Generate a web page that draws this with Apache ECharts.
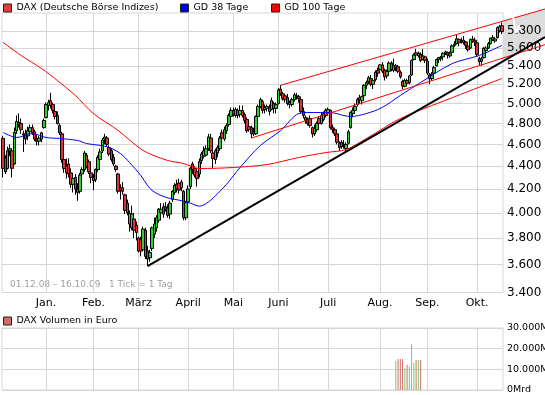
<!DOCTYPE html>
<html><head><meta charset="utf-8">
<script src="https://cdn.jsdelivr.net/npm/echarts@6/dist/echarts.min.js"></script>
<style>html,body{margin:0;padding:0;background:#fff}#c{width:545px;height:395px}</style>
</head><body><div id="c"></div>
<script>
// ---------- data ----------
const monthStarts = [19,40,60,82,102,122,144,167,188,210];
const monthLabels = ['Jan.','Feb.','März','April','Mai','Juni','Juli','Aug.','Sep.','Okt.'];
const priceTicks = [3400,3600,3800,4000,4200,4400,4600,4800,5000,5200,5400,5600,5800];
const volTicks = [0,10000,20000,30000];
// [open, high, low, close] per trading day
const dec08 = [[4656,4680,4300,4380],[4470,4500,4330,4350],[4380,4580,4370,4540],[4540,4600,4490,4560],[4540,4560,4300,4380],[4420,4760,4410,4715],[4730,4880,4700,4820],[4810,4900,4760,4790],[4800,4850,4700,4740],[4700,4730,4530,4690],[4700,4740,4600,4650],[4680,4770,4640,4730],[4720,4790,4690,4760],[4760,4790,4690,4710],[4720,4740,4630,4650],[4650,4690,4590,4630],[4630,4680,4590,4660],[4650,4720,4620,4710],[4760,4850,4750,4830]];
const jan09 = [[4860,5010,4850,4990],[4980,5040,4930,5010],[5030,5111,4950,4980],[4990,5010,4900,4930],[4920,4940,4840,4870],[4880,4920,4790,4800],[4780,4800,4690,4710],[4700,4720,4430,4460],[4460,4490,4340,4380],[4400,4470,4290,4340],[4420,4470,4300,4330],[4340,4380,4210,4240],[4240,4320,4170,4290],[4300,4330,4150,4200],[4200,4250,4100,4170],[4180,4340,4160,4320],[4330,4390,4280,4370],[4370,4540,4350,4520],[4500,4520,4380,4400],[4440,4460,4330,4350],[4340,4380,4250,4300]];
const feb09 = [[4300,4330,4190,4270],[4280,4380,4260,4370],[4370,4500,4350,4480],[4460,4560,4400,4530],[4540,4660,4520,4640],[4650,4700,4600,4670],[4660,4680,4580,4600],[4570,4590,4490,4510],[4540,4560,4440,4460],[4480,4510,4400,4420],[4400,4410,4350,4370],[4330,4340,4160,4180],[4210,4240,4110,4190],[4210,4260,4150,4180],[4150,4160,3990,4020],[4080,4110,3980,4000],[3910,4020,3850,3995],[3880,4060,3860,3990],[3950,4000,3800,3860],[3900,3930,3780,3843]];
const mar09 = [[3800,3810,3690,3700],[3790,3810,3660,3700],[3710,3890,3700,3870],[3860,3880,3640,3660],[3700,3740,3588,3640],[3650,3710,3620,3690],[3720,3890,3700,3880],[3830,3960,3800,3910],[3880,3980,3850,3960],[3940,4040,3920,4030],[4000,4080,3980,4030],[4050,4080,3960,3990],[4050,4090,4010,4030],[4040,4070,3960,3980],[3990,4100,3950,4080],[4110,4190,4090,4180],[4170,4250,4150,4230],[4240,4280,4170,4200],[4250,4290,4160,4190],[4210,4280,4180,4260],[4180,4190,3940,3960],[3960,4100,3940,4085]];
const apr09 = [[4090,4230,4060,4200],[4220,4400,4200,4380],[4420,4440,4330,4370],[4380,4400,4300,4320],[4350,4370,4220,4290],[4330,4470,4300,4440],[4450,4530,4420,4510],[4490,4580,4470,4540],[4500,4590,4490,4560],[4560,4700,4540,4670],[4660,4700,4520,4540],[4520,4540,4380,4470],[4460,4560,4420,4540],[4520,4590,4480,4570],[4560,4680,4540,4660],[4710,4740,4640,4660],[4650,4770,4630,4740],[4730,4800,4700,4780],[4790,4900,4770,4880],[4870,4960,4840,4930]];
const may09 = [[4930,4960,4870,4890],[4880,4960,4860,4940],[4930,4950,4850,4880],[4890,4980,4860,4930],[4930,4980,4860,4880],[4890,4910,4800,4830],[4840,4860,4710,4730],[4770,4790,4720,4740],[4760,4780,4660,4700],[4720,4760,4680,4700],[4700,4880,4690,4870],[4870,4990,4850,4970],[4970,5060,4950,5040],[5020,5040,4900,4930],[4940,4990,4900,4960],[4950,4990,4920,4970],[4960,4990,4880,4920],[4940,5060,4930,5030],[5000,5020,4900,4950],[4950,5010,4900,4990]];
const jun09 = [[5000,5160,4990,5140],[5150,5190,5080,5100],[5100,5120,5030,5050],[5080,5100,5010,5040],[5060,5100,4980,5000],[5010,5030,4950,4990],[4990,5060,4970,5040],[5040,5110,5020,5090],[5080,5110,5040,5070],[5070,5090,5010,5050],[5040,5050,4900,4920],[4920,4960,4850,4880],[4860,4880,4800,4830],[4830,4860,4780,4800],[4850,4880,4760,4780],[4760,4770,4665,4700],[4700,4790,4680,4750],[4740,4820,4720,4800],[4850,4870,4780,4800],[4800,4910,4790,4880],[4840,4920,4820,4900],[4880,4950,4860,4930]];
const jul09 = [[4900,4960,4880,4940],[4930,4940,4740,4760],[4760,4790,4710,4740],[4740,4760,4680,4700],[4700,4720,4600,4620],[4610,4630,4540,4570],[4620,4640,4560,4580],[4600,4640,4560,4590],[4560,4620,4524,4600],[4610,4740,4600,4720],[4760,4920,4750,4910],[4900,4960,4860,4930],[4930,5000,4900,4970],[4990,5060,4970,5040],[5040,5090,5000,5060],[5030,5080,4990,5070],[5080,5200,5070,5190],[5190,5240,5150,5220],[5230,5290,5200,5270],[5260,5300,5180,5200],[5200,5260,5150,5240],[5250,5350,5230,5330],[5350,5380,5280,5320]];
const aug09 = [[5360,5420,5350,5410],[5410,5440,5320,5340],[5350,5370,5240,5280],[5290,5360,5260,5340],[5340,5450,5330,5430],[5430,5450,5340,5360],[5350,5480,5330,5400],[5380,5420,5340,5400],[5390,5410,5320,5340],[5330,5350,5260,5280],[5230,5250,5150,5180],[5180,5260,5170,5240],[5240,5260,5180,5210],[5220,5300,5200,5290],[5300,5470,5290,5460],[5470,5540,5460,5520],[5545,5590,5500,5520],[5510,5560,5490,5540],[5530,5550,5440,5460],[5470,5590,5460,5510],[5500,5510,5430,5460]];
const sep09 = [[5450,5480,5300,5320],[5300,5320,5200,5260],[5260,5330,5240,5310],[5320,5400,5300,5380],[5400,5480,5390,5470],[5470,5500,5430,5490],[5480,5510,5450,5495],[5500,5550,5460,5540],[5540,5570,5520,5555],[5550,5560,5480,5520],[5510,5560,5490,5535],[5550,5640,5540,5625],[5630,5680,5610,5645],[5650,5760,5640,5705],[5700,5710,5620,5660],[5670,5720,5650,5680],[5690,5740,5640,5665],[5670,5680,5590,5630],[5620,5640,5560,5580],[5600,5710,5590,5700],[5700,5740,5660,5675],[5690,5720,5620,5670]];
const oct09 = [[5660,5670,5500,5527],[5480,5500,5410,5445],[5450,5500,5400,5477],[5490,5610,5480,5597],[5570,5620,5560,5600],[5600,5670,5590,5650],[5650,5720,5640,5713],[5720,5750,5680,5692],[5680,5720,5660,5704],[5720,5850,5710,5839],[5800,5870,5780,5850],[5860,5900,5760,5790]];
// moving averages: [day index, value]
const gd38 = [[0,4713],[6,4665],[13,4703],[19,4665],[25,4656],[33,4637],[37,4608],[43,4590],[47,4571],[52,4515],[56,4433],[61,4317],[64,4230],[66,4187],[70,4144],[74,4119],[78,4105],[83,4080],[87,4055],[91,4090],[95,4160],[99,4240],[105,4388],[114,4590],[123,4732],[131,4899],[136,4909],[145,4909],[151,4879],[154,4869],[161,4899],[168,4960],[176,5083],[185,5219],[199,5425],[211,5515],[221,5629]];
const gd100 = [[0,5663],[8,5515],[17,5370],[24,5241],[32,5083],[40,4899],[51,4732],[62,4543],[73,4451],[80,4424],[87,4379],[102,4388],[117,4415],[131,4479],[143,4524],[152,4552],[161,4656],[176,4849],[198,5051],[221,5262]];
// trend lines: [day index, value] end points
const upperChannel = [[123,5190],[240.1,6064]];
const lowerChannel = [[110,4660],[240.1,5638]];
const supportLine = [[64,3588],[240.1,5727]];
// white stroke in the projection area: [day index, value]
const whitePath = [[225.0,6060],[226.3,5930],[227.2,5775],[228.5,5860],[229.8,5790]];
// volume (Mio. Euro)
const volDays = [174,175,176,177,178,179,180,181,182,183,184,185];
const volValues = [14200,15000,15000,15000,10350,12200,11370,22100,13360,14500,14500,14500];

// ---------- layout ----------
const W = 545;
const plotL = 2, plotR = 503, plotTop = 13, plotBot = 292.5;
const ohlc = [].concat(dec08,jan09,feb09,mar09,apr09,may09,jun09,jul09,aug09,sep09,oct09);
const nDays = ohlc.length;
const pxDay = (plotR - plotL) / nDays;
const pxPerLn = 490;
const pMin = 3400;
const pMax = pMin * Math.exp((plotBot - plotTop) / pxPerLn);
const extMax = pMin * Math.exp(plotBot / pxPerLn);
const extDays = (W - plotL) / pxDay - 0.5;

const FONT = 'DejaVu Sans';
const GRID_C = '#d6d6d6';
const fmtDE = v => String(Math.round(v)).replace(/\B(?=(\d{3})+(?!\d))/g, '.');

const candleData = ohlc.map((d, i) => [i, d[0], d[3], d[2], d[1]]);
const volData = volDays.map((d, k) => {
  const up = ohlc[d][3] >= ohlc[d][0];
  return { value: [d, volValues[k]], itemStyle: { color: up ? '#6fcf6f' : '#d46a6a' } };
});

const chart = echarts.init(document.getElementById('c'), null, { renderer: 'canvas' });
const legendBase = { orient: 'horizontal', padding: 0, itemWidth: 8, itemHeight: 8, itemGap: 4, selectedMode: false,
  textStyle: { fontFamily: FONT, fontSize: 9.5, color: '#000' } };

chart.setOption({
  animation: false,
  backgroundColor: '#fff',
  legend: [
    Object.assign({}, legendBase, { left: 3, top: 3, data: [{ name: 'DAX (Deutsche Börse Indizes)', icon: 'rect', itemStyle: { color: '#e23c3c', borderColor: '#222', borderWidth: 1 } }] }),
    Object.assign({}, legendBase, { left: 180, top: 3, data: [{ name: 'GD 38 Tage', icon: 'rect', itemStyle: { color: '#0000ee', borderColor: '#222', borderWidth: 1 } }] }),
    Object.assign({}, legendBase, { left: 271, top: 3, data: [{ name: 'GD 100 Tage', icon: 'rect', itemStyle: { color: '#ff0000', borderColor: '#222', borderWidth: 1 } }] }),
    Object.assign({}, legendBase, { left: 3, top: 316, data: [{ name: 'DAX Volumen in Euro', icon: 'rect', itemStyle: { color: '#d46a6a', borderColor: '#222', borderWidth: 1 } }] })
  ],
  grid: [
    { left: plotL, top: plotTop, width: plotR - plotL, height: plotBot - plotTop, show: true, borderColor: GRID_C, borderWidth: 1, containLabel: false, outerBoundsMode: 'none' },
    { left: plotL, top: 328, width: plotR - plotL, height: 62, show: true, borderColor: GRID_C, borderWidth: 1, containLabel: false, outerBoundsMode: 'none' },
    { left: plotL, top: 0, width: W - plotL, height: plotBot, show: false, containLabel: false, outerBoundsMode: 'none' }
  ],
  xAxis: [
    { gridIndex: 0, type: 'value', min: -0.5, max: nDays - 0.5,
      axisLine: { show: false }, axisTick: { show: false, customValues: monthStarts },
      axisLabel: { customValues: monthStarts, margin: 5, fontFamily: FONT, fontSize: 11, color: '#000',
        formatter: v => monthLabels[monthStarts.indexOf(v)] || '' },
      splitLine: { show: true, lineStyle: { color: GRID_C, width: 1 } } },
    { gridIndex: 1, type: 'value', min: -0.5, max: nDays - 0.5,
      axisLine: { show: false }, axisTick: { show: false, customValues: monthStarts },
      axisLabel: { show: false, customValues: monthStarts },
      splitLine: { show: true, lineStyle: { color: GRID_C, width: 1 } } },
    { gridIndex: 2, type: 'value', min: -0.5, max: extDays, show: false }
  ],
  yAxis: [
    { gridIndex: 0, type: 'log', logBase: 10, min: pMin, max: pMax, position: 'right',
      axisLine: { show: false }, axisTick: { show: false, customValues: priceTicks },
      axisLabel: { customValues: priceTicks, margin: 4, fontFamily: FONT, fontSize: 12, color: '#000', formatter: v => fmtDE(v) },
      splitLine: { show: true, lineStyle: { color: GRID_C, width: 1 } } },
    { gridIndex: 1, type: 'value', min: 0, max: 30000, interval: 10000, position: 'right',
      axisLine: { show: false }, axisTick: { show: false },
      axisLabel: { margin: 4, align: 'left', fontFamily: FONT, fontSize: 9.5, color: '#000', formatter: v => v === 0 ? '0Mrd' : fmtDE(v) + 'M' },
      splitLine: { show: true, lineStyle: { color: GRID_C, width: 1 } } },
    { gridIndex: 2, type: 'log', logBase: 10, min: pMin, max: extMax, show: false }
  ],
  graphic: [
    { type: 'text', left: 10, top: 280, style: { text: '01.12.08 – 16.10.09   1 Tick = 1 Tag', fill: '#a0a0a0', font: '9px "DejaVu Sans"' } }
  ],
  series: [
    { type: 'custom', name: 'proj', xAxisIndex: 2, yAxisIndex: 2, z: -1, silent: true, data: [[0]],
      renderItem: (params, api) => {
        const u0 = api.coord(upperChannel[0]), u1 = api.coord(upperChannel[1]);
        const s0 = api.coord(supportLine[0]), s1 = api.coord(supportLine[1]);
        const xr = api.coord([nDays - 0.5, pMin])[0];
        const at = (a, b, x) => a[1] + (b[1] - a[1]) * (x - a[0]) / (b[0] - a[0]);
        return { type: 'polygon', shape: { points: [[xr, at(u0, u1, xr)], u1, s1, [xr, at(s0, s1, xr)]] },
          style: { fill: '#dcdcdc' } };
      } },
    { type: 'candlestick', name: 'DAX (Deutsche Börse Indizes)', xAxisIndex: 0, yAxisIndex: 0,
      data: candleData, encode: { x: 0, y: [1, 2, 3, 4] }, barWidth: 3,
      itemStyle: { color: '#33cc33', color0: '#dd3333', borderColor: '#000', borderColor0: '#000', borderWidth: 1 } },
    { type: 'line', name: 'GD 38 Tage', xAxisIndex: 0, yAxisIndex: 0, data: gd38, showSymbol: false, smooth: 0.3,
      lineStyle: { color: '#0000ff', width: 1 }, itemStyle: { color: '#0000ff' } },
    { type: 'line', name: 'GD 100 Tage', xAxisIndex: 0, yAxisIndex: 0, data: gd100, showSymbol: false, smooth: 0.3,
      lineStyle: { color: '#ff0000', width: 1 }, itemStyle: { color: '#ff0000' } },
    { type: 'line', name: 'upper', xAxisIndex: 2, yAxisIndex: 2, data: upperChannel, showSymbol: false,
      lineStyle: { color: '#ff0000', width: 1 } },
    { type: 'line', name: 'lower', xAxisIndex: 2, yAxisIndex: 2, data: lowerChannel, showSymbol: false,
      lineStyle: { color: '#ff0000', width: 1 } },
    { type: 'line', name: 'support', xAxisIndex: 2, yAxisIndex: 2, data: supportLine, showSymbol: false,
      lineStyle: { color: '#000000', width: 2 } },
    { type: 'line', name: 'whiteStroke', xAxisIndex: 2, yAxisIndex: 2, data: whitePath, showSymbol: false, z: 3,
      lineStyle: { color: '#ffffff', width: 2 } },
    { type: 'bar', name: 'DAX Volumen in Euro', xAxisIndex: 1, yAxisIndex: 1, data: volData, barWidth: 1,
      itemStyle: { color: '#d46a6a' } }
  ]
});
</script></body></html>
